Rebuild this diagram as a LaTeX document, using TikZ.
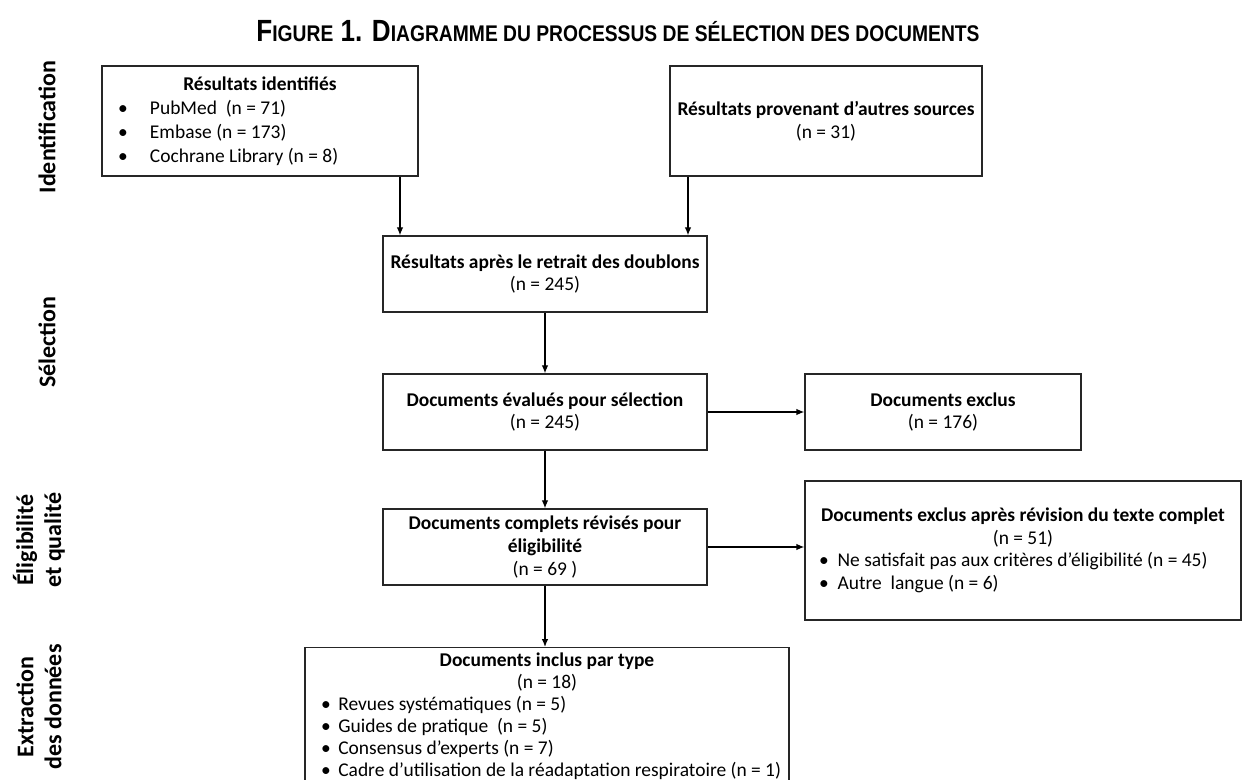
\documentclass[tikz,border=0pt]{standalone}
\usepackage{fontspec}
\setmainfont{Carlito}
\newfontfamily\titrefont[FakeStretch=0.85]{Liberation Sans}
\usetikzlibrary{arrows.meta}

\newcommand{\puce}[3]{\hspace*{#1}\makebox[#2][l]{\textbullet}#3\par}
\newcommand{\pcap}[2]{{\fontsize{23}{23}\selectfont #1}{\fontsize{17}{17}\selectfont #2}}

\tikzset{
  boite/.style={draw=black!85, line width=1pt, inner sep=0pt, align=flush center, font=\fontsize{14.6}{17}\selectfont},
  etape/.style={rotate=90, align=center, font=\bfseries\fontsize{18}{21}\selectfont},
  fleche/.style={-{Latex[length=6pt,width=5pt]}, line width=1pt},
}

\begin{document}
\begin{tikzpicture}[x=0.75pt, y=-0.75pt]
	\useasboundingbox (0,0) rectangle (1243,780);
	\node[font=\titrefont\bfseries] (titre) at (618,31) {\pcap{F}{IGURE}\pcap{ 1. D}{IAGRAMME DU PROCESSUS DE SÉLECTION DES DOCUMENTS}};
	% etapes
	\node[etape] (lid) at (47,127) {Identification};
	\node[etape] (lsel) at (47,342) {Sélection};
	\node[etape] (lelig) at (39,540) {Éligibilité\\et qualité};
	\node[etape] (lext) at (39,707) {Extraction\\des données};
	% boites
	\node[boite, text width=237pt, minimum height=82.5pt, font=\fontsize{14.6}{18}\selectfont] (ident) at (260,121) {\textbf{Résultats identifiés}\par\raggedright
		\puce{12pt}{24pt}{PubMed\ \ (n = 71)}
		\puce{12pt}{24pt}{Embase (n = 173)}
		\puce{12pt}{24pt}{Cochrane Library (n = 8)}};
	\node[boite, minimum width=234pt, minimum height=82.5pt] (autres) at (826,121) {\textbf{Résultats provenant d’autres sources}\\(n = 31)};
	\node[boite, minimum width=243pt, minimum height=57pt] (doublons) at (545,274) {\textbf{Résultats après le retrait des doublons}\\(n = 245)};
	\node[boite, minimum width=243pt, minimum height=57pt] (evalues) at (545,412) {\textbf{Documents évalués pour sélection}\\(n = 245)};
	\node[boite, minimum width=207pt, minimum height=57pt] (exclus) at (943,412) {\textbf{Documents exclus}\\(n = 176)};
	\node[boite, minimum width=243pt, minimum height=57pt] (complets) at (545,547) {\textbf{Documents complets révisés pour}\\\textbf{éligibilité}\\(n = 69 )};
	\node[boite, text width=327pt, minimum height=104.25pt] (exclustxt) at (1023,550.5) {\textbf{Documents exclus après révision du texte complet}\\(n = 51)\par\raggedright
		\puce{10.5pt}{14pt}{Ne satisfait pas aux critères d’éligibilité (n = 45)}
		\puce{10.5pt}{14pt}{Autre\ \ langue (n = 6)}};
	\node[boite, anchor=north, text width=363pt, inner ysep=4pt, font=\fontsize{14.6}{16.5}\selectfont] (inclus) at (547,647) {\textbf{Documents inclus par type}\\(n = 18)\par\raggedright
		\puce{12pt}{13pt}{Revues systématiques (n = 5)}
		\puce{12pt}{13pt}{Guides de pratique\ \ (n = 5)}
		\puce{12pt}{13pt}{Consensus d’experts (n = 7)}
		\puce{12pt}{13pt}{Cadre d’utilisation de la réadaptation respiratoire (n = 1)}};
	% fleches
	\coordinate (xa) at (400,0);
	\coordinate (xb) at (688,0);
	\draw[fleche] (ident.south -| xa) -- (doublons.north -| xa);
	\draw[fleche] (autres.south -| xb) -- (doublons.north -| xb);
	\draw[fleche] (doublons) -- (evalues);
	\draw[fleche] (evalues) -- (exclus);
	\draw[fleche] (evalues) -- (complets);
	\draw[fleche] (complets.east) -- (complets.east -| exclustxt.west);
	\draw[fleche] (complets) -- (complets |- inclus.north);
\end{tikzpicture}
\end{document}
